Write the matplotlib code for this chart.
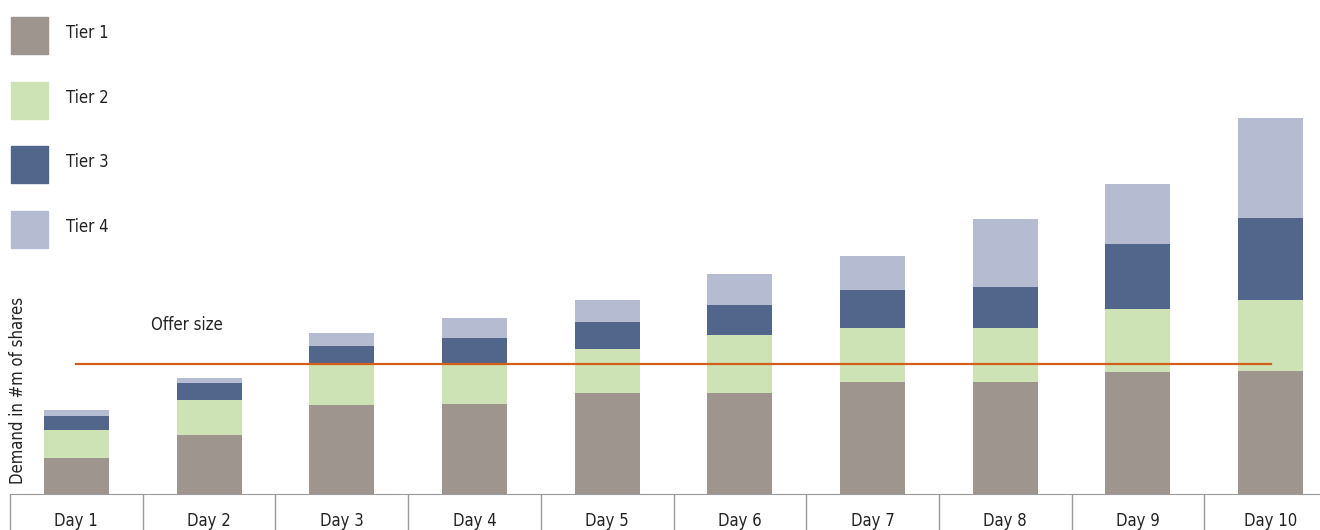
import matplotlib
matplotlib.use("Agg")
import matplotlib.pyplot as plt
import numpy as np
from matplotlib.patches import Rectangle

plt.rcParams['font.family'] = ['DejaVu Sans']
plt.rcParams['font.stretch'] = 'condensed'

# data (demand in #m of shares)
days = ["Day 1", "Day 2", "Day 3", "Day 4", "Day 5",
        "Day 6", "Day 7", "Day 8", "Day 9", "Day 10"]
tier1 = [3.6, 5.9, 8.9, 9.0, 10.1, 10.1, 11.2, 11.2, 12.2, 12.3]
tier2 = [2.8, 3.5, 4.2, 4.1, 4.4, 5.8, 5.4, 5.4, 6.3, 7.1]
tier3 = [1.4, 1.7, 1.7, 2.5, 2.7, 3.0, 3.8, 4.1, 6.5, 8.2]
tier4 = [0.6, 0.5, 1.3, 2.0, 2.2, 3.1, 3.4, 6.8, 6.0, 10.0]
offer_size = 13.0

tiers = [tier1, tier2, tier3, tier4]
names = ["Tier 1", "Tier 2", "Tier 3", "Tier 4"]
colors = ["#9e958e", "#cde3b5", "#52668c", "#b5bbd0"]

W, H = 1320, 530
fig = plt.figure(figsize=(W / 100, H / 100), dpi=100)
ax = fig.add_axes([10 / W, 36 / H, 1327 / W, 494 / H])

x = np.arange(len(days))
bottom = np.zeros(len(days))
for vals, name, c in zip(tiers, names, colors):
    ax.bar(x, vals, width=0.49, bottom=bottom, color=c, label=name, zorder=2)
    bottom += np.array(vals)

ax.plot([x[0], x[-1]], [offer_size, offer_size], color="#d2601a", lw=1.6, zorder=3)
ax.text(0.56, 16.9, "Offer size", fontsize=12, va="center", ha="left", color="#222222")

ax.set_xlim(-0.5, len(days) - 0.5)
ax.set_ylim(0, 49.4)
ax.set_yticks([])
for s in ["top", "right", "left"]:
    ax.spines[s].set_visible(False)
ax.spines["bottom"].set_color("#999999")

# category labels in boxes below the axis
ax.set_xticks(x)
ax.set_xticklabels(days, fontsize=12, color="#222222")
ax.set_xticks(np.arange(-0.5, len(days)), minor=True)
ax.tick_params(axis="x", which="major", length=0, pad=13)
ax.tick_params(axis="x", which="minor", length=27, color="#999999", width=1)

fig.text(18 / W, 1 - 390 / H, "Demand in #m of shares", rotation=90,
         fontsize=12, va="center", ha="center", color="#222222")

# legend: squares with labels, top left
for i, (name, c) in enumerate(zip(names, colors)):
    top = 17 + i * 64.7
    fig.add_artist(Rectangle((11 / W, 1 - (top + 37) / H), 37 / W, 37 / H,
                             transform=fig.transFigure, color=c))
    fig.text(66 / W, 1 - (top + 16) / H, name, fontsize=12, va="center",
             ha="left", color="#222222")

fig.savefig("out.png", dpi=100)
